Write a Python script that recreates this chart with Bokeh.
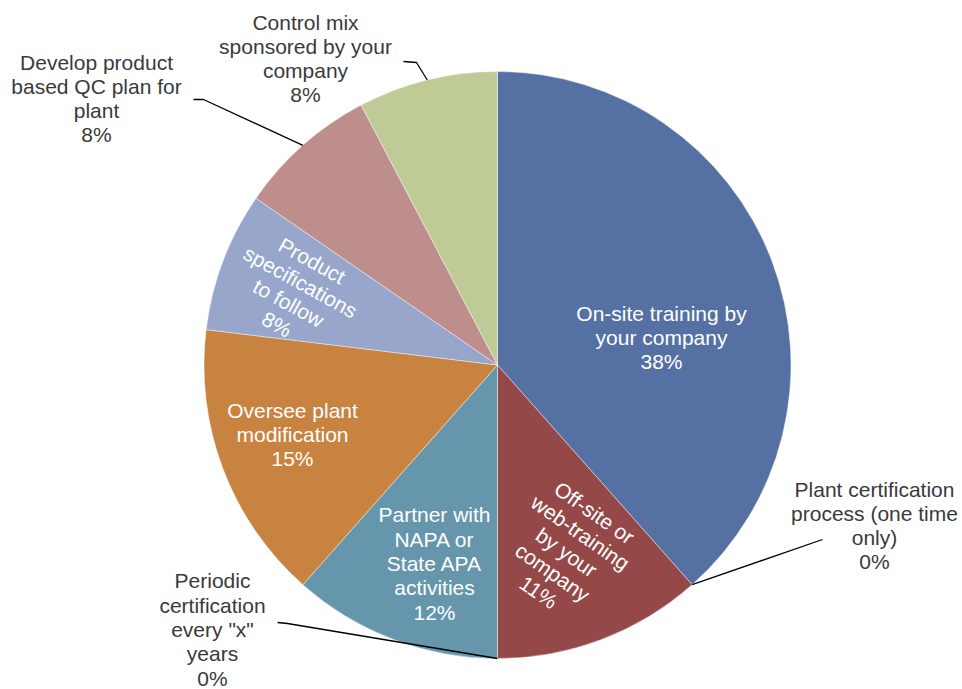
import math
from bokeh.plotting import figure
from bokeh.models import Range1d, ColumnDataSource
from bokeh.core.properties import value
from bokeh.embed import file_html
from bokeh.resources import INLINE

# ---------------- data ----------------
categories = [
    "On-site training by your company",
    "Plant certification process (one time only)",
    "Off-site or web-training by your company",
    "Periodic certification every \"x\" years",
    "Partner with NAPA or State APA activities",
    "Oversee plant modification",
    "Product specifications to follow",
    "Develop product based QC plan for plant",
    "Control mix sponsored by your company",
]
counts = [10, 0, 3, 0, 3, 4, 2, 2, 2]
pct_labels = ["38%", "0%", "11%", "0%", "12%", "15%", "8%", "8%", "8%"]
colors = ["#5571A4", "#944847", "#944847", "#6596AC", "#6596AC",
          "#C88340", "#98A6CC", "#BE8E8D", "#BECB96"]

# label line breaks (as wrapped in the reference)
label_lines = [
    "On-site training by\nyour company",
    "Plant certification\nprocess (one time\nonly)",
    "Off-site or\nweb-training\nby your\ncompany",
    "Periodic\ncertification\nevery \"x\"\nyears",
    "Partner with\nNAPA or\nState APA\nactivities",
    "Oversee plant\nmodification",
    "Product\nspecifications\nto follow",
    "Develop product\nbased QC plan for\nplant",
    "Control mix\nsponsored by your\ncompany",
]

# ---------------- layout ----------------
W, H = 962, 689
CX, CY_S, R = 497, 364.5, 293.5
def sy(y):  # screen y -> data y
    return H - y

# label anchors (screen coords), rotation (deg, clockwise), inside?
label_pos = [
    (661, 337, 0, True),
    (874, 525, 0, False),
    (566, 552, 35, True),
    (212, 629, 0, False),
    (434, 563, 0, True),
    (292, 434, 0, True),
    (294, 292, 29, True),
    (96, 98, 0, False),
    (305, 58, 0, False),
]
# leader line points beyond the pie edge (screen coords), for outside labels
leaders = {
    1: [(822, 539)],
    3: [(287, 623), (277, 622)],
    7: [(203, 99), (193, 99)],
    8: [(416, 62), (403, 61)],
}

total = sum(counts)
cum = [0]
for c in counts:
    cum.append(cum[-1] + c)

p = figure(width=W, height=H, output_backend="svg", toolbar_location=None,
           x_range=Range1d(0, W), y_range=Range1d(0, H),
           min_border=0, outline_line_color=None)
p.axis.visible = False
p.grid.visible = False
p.background_fill_color = "white"
p.border_fill_color = "white"

starts, ends, cols = [], [], []
for i, c in enumerate(counts):
    if c == 0:
        continue
    a0 = math.pi / 2 - 2 * math.pi * cum[i] / total
    a1 = math.pi / 2 - 2 * math.pi * cum[i + 1] / total
    starts.append(a0)
    ends.append(a1)
    cols.append(colors[i])
src = ColumnDataSource(dict(s=starts, e=ends, c=cols))
p.wedge(x=CX, y=sy(CY_S), radius=R, start_angle="s", end_angle="e",
        direction="clock", fill_color="c", line_color="white",
        line_width=0.6, line_alpha=0.7, source=src)

# leader lines
for i, pts in leaders.items():
    frac = (cum[i] + cum[i + 1]) / 2 / total
    ang = math.pi / 2 - 2 * math.pi * frac
    ex = CX + R * math.cos(ang)
    ey = sy(CY_S) + R * math.sin(ang)
    xs = [ex] + [q[0] for q in pts]
    ys = [ey] + [sy(q[1]) for q in pts]
    p.line(xs, ys, line_color="black", line_width=1.3)

# labels
for i in range(len(categories)):
    x, y, rot, inside = label_pos[i]
    txt = label_lines[i] + "\n" + pct_labels[i]
    p.text(x=[x], y=[sy(y)], text=[txt], angle=-math.radians(rot),
           text_align="center", text_baseline="middle",
           text_font=value("Liberation Sans"), text_font_size="21px",
           text_line_height=1.055,
           text_color="white" if inside else "#3A3A3A")

open("out.html", "w").write(file_html(p, INLINE))
